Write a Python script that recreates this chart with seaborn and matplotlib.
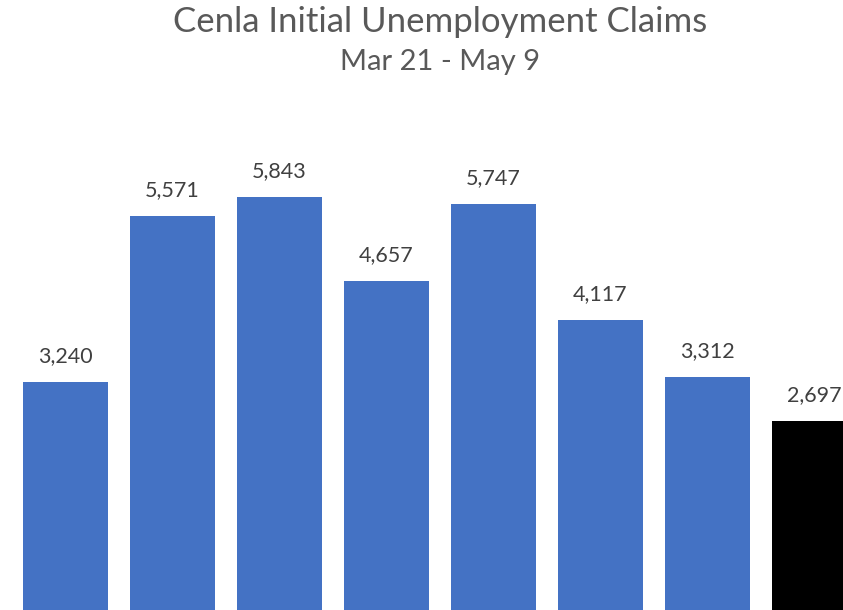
import matplotlib
matplotlib.use("Agg")
import matplotlib.pyplot as plt
import seaborn as sns
import pandas as pd

weeks = ["Mar 21", "Mar 28", "Apr 4", "Apr 11", "Apr 18", "Apr 25", "May 2", "May 9"]
claims = [3240, 5571, 5843, 4657, 5747, 4117, 3312, 2697]
colors = ["#4472C4"] * 7 + ["#000000"]

df = pd.DataFrame({"week": weeks, "claims": claims})

sns.set_theme(style="white")
plt.rcParams["font.family"] = ["Lato", "DejaVu Sans"]

fig = plt.figure(figsize=(8.43, 6.10), dpi=100)
W, H = 843, 610
base_px = 613
scale = 0.0712  # px per unit
ymax = 7000
top_px = base_px - ymax * scale
ax = fig.add_axes([12 / W, (H - base_px) / H, 856 / W, (base_px - top_px) / H])

sns.barplot(data=df, x="week", y="claims", hue="week", palette=colors,
            legend=False, width=0.794, saturation=1, linewidth=0, ax=ax)
ax.set_xlim(-0.5, 7.5)
ax.set_ylim(0, ymax)
ax.axis("off")

for i, v in enumerate(claims):
    ax.annotate(f"{v:,}", (i, v), xytext=(0, 11.5), textcoords="offset points",
                ha="center", va="bottom", fontsize=15.5, color="#404040")

cx = 440 / W
fig.text(cx, 1 - 22 / H, "Cenla Initial Unemployment Claims", ha="center", va="center",
         fontsize=25, color="#595959")
fig.text(cx, 1 - 62 / H, "Mar 21 - May 9", ha="center", va="center",
         fontsize=21, color="#595959")

fig.savefig("out.png", dpi=100)
